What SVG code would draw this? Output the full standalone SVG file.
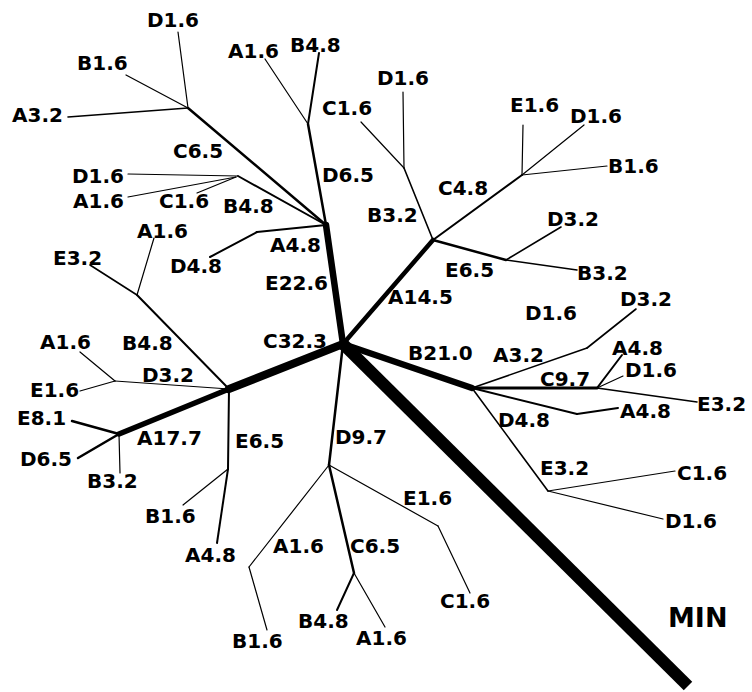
<svg xmlns="http://www.w3.org/2000/svg" width="752" height="692" viewBox="0 0 752 692">
<style>
  .bg { fill: #ffffff; }
  line { stroke: #000; stroke-linecap: round; fill: none; }
  .w1 { stroke-width: 1.2; }
  .w2 { stroke-width: 1.6; }
  .w3 { stroke-width: 2; }
  .w4 { stroke-width: 2.5; }
  .w5 { stroke-width: 3; }
  .w6 { stroke-width: 4.5; }
  .w7 { stroke-width: 5.5; }
  .w8 { stroke-width: 6.5; }
  .w9 { stroke-width: 8; }
  .wmin { stroke-width: 12; stroke-linecap: butt; }
  text { font-family: "DejaVu Sans", Verdana, sans-serif; font-weight: bold; font-size: 20px; fill: #000; }
  .big { font-size: 27px; }
</style>
<rect class="bg" x="0" y="0" width="752" height="692"/>
<g id="connectors">
  <line class="wmin" x1="343" y1="344" x2="688" y2="686"/>
  <line class="w8" x1="343" y1="344" x2="326" y2="225"/>
  <line class="w6" x1="343" y1="344" x2="433" y2="240"/>
  <line class="w8" x1="343" y1="344" x2="472" y2="388"/>
  <line class="w4" x1="343" y1="344" x2="329" y2="465"/>
  <line class="w9" x1="343" y1="344" x2="229" y2="389"/>
  <line class="w7" x1="229" y1="389" x2="119" y2="434"/>
  <line class="w4" x1="119" y1="434" x2="72" y2="421"/>
  <line class="w4" x1="119" y1="434" x2="78" y2="458"/>
  <line class="w1" x1="119" y1="434" x2="120" y2="473"/>
  <line class="w3" x1="229" y1="389" x2="137" y2="295"/>
  <line class="w2" x1="137" y1="295" x2="90" y2="265"/>
  <line class="w1" x1="137" y1="295" x2="154" y2="238"/>
  <line class="w1" x1="229" y1="389" x2="115" y2="381"/>
  <line class="w1" x1="115" y1="381" x2="80" y2="352"/>
  <line class="w1" x1="115" y1="381" x2="80" y2="391"/>
  <line class="w3" x1="229" y1="389" x2="228" y2="469"/>
  <line class="w1" x1="228" y1="469" x2="183" y2="505"/>
  <line class="w3" x1="228" y1="469" x2="217" y2="543"/>
  <line class="w4" x1="326" y1="225" x2="308" y2="124"/>
  <line class="w1" x1="308" y1="124" x2="265" y2="59"/>
  <line class="w3" x1="308" y1="124" x2="319" y2="53"/>
  <line class="w4" x1="326" y1="225" x2="188" y2="108"/>
  <line class="w1" x1="188" y1="108" x2="178" y2="32"/>
  <line class="w1" x1="188" y1="108" x2="126" y2="75"/>
  <line class="w2" x1="188" y1="108" x2="68" y2="117"/>
  <line class="w3" x1="326" y1="225" x2="238" y2="176"/>
  <line class="w1" x1="238" y1="176" x2="128" y2="174"/>
  <line class="w1" x1="236" y1="177" x2="128" y2="197"/>
  <line class="w1" x1="236" y1="177" x2="197" y2="193"/>
  <line class="w3" x1="326" y1="225" x2="257" y2="232"/>
  <line class="w3" x1="257" y1="232" x2="210" y2="257"/>
  <line class="w2" x1="433" y1="240" x2="404" y2="168"/>
  <line class="w1" x1="404" y1="168" x2="361" y2="122"/>
  <line class="w1" x1="404" y1="168" x2="403" y2="92"/>
  <line class="w3" x1="433" y1="240" x2="522" y2="175"/>
  <line class="w1" x1="522" y1="175" x2="523" y2="125"/>
  <line class="w1" x1="522" y1="175" x2="584" y2="125"/>
  <line class="w1" x1="522" y1="175" x2="607" y2="166"/>
  <line class="w4" x1="433" y1="240" x2="506" y2="260"/>
  <line class="w2" x1="506" y1="260" x2="561" y2="227"/>
  <line class="w2" x1="506" y1="260" x2="577" y2="270"/>
  <line class="w2" x1="472" y1="388" x2="587" y2="348"/>
  <line class="w2" x1="587" y1="348" x2="636" y2="309"/>
  <line class="w5" x1="472" y1="388" x2="597" y2="388"/>
  <line class="w3" x1="597" y1="388" x2="622" y2="355"/>
  <line class="w1" x1="597" y1="388" x2="623" y2="376"/>
  <line class="w2" x1="597" y1="388" x2="697" y2="402"/>
  <line class="w3" x1="472" y1="388" x2="577" y2="414"/>
  <line class="w3" x1="577" y1="414" x2="618" y2="408"/>
  <line class="w2" x1="472" y1="388" x2="548" y2="491"/>
  <line class="w1" x1="548" y1="491" x2="675" y2="471"/>
  <line class="w1" x1="548" y1="491" x2="663" y2="519"/>
  <line class="w1" x1="329" y1="465" x2="249" y2="567"/>
  <line class="w1" x1="249" y1="567" x2="267" y2="630"/>
  <line class="w4" x1="329" y1="465" x2="354" y2="573"/>
  <line class="w3" x1="354" y1="573" x2="337" y2="610"/>
  <line class="w1" x1="354" y1="573" x2="385" y2="627"/>
  <line class="w1" x1="329" y1="465" x2="438" y2="526"/>
  <line class="w1" x1="438" y1="526" x2="470" y2="593"/>
</g>
<g id="n1"><text x="147" y="27">D1.6</text></g>
<g id="n2"><text x="77" y="70">B1.6</text></g>
<g id="n3"><text x="12" y="122">A3.2</text></g>
<g id="n4"><text x="228" y="58">A1.6</text></g>
<g id="n5"><text x="290" y="52">B4.8</text></g>
<g id="n6"><text x="173" y="158">C6.5</text></g>
<g id="n7"><text x="72" y="183">D1.6</text></g>
<g id="n8"><text x="73" y="208">A1.6</text></g>
<g id="n9"><text x="159" y="208">C1.6</text></g>
<g id="n10"><text x="223" y="213">B4.8</text></g>
<g id="n11"><text x="322" y="182">D6.5</text></g>
<g id="n12"><text x="137" y="238">A1.6</text></g>
<g id="n13"><text x="270" y="252">A4.8</text></g>
<g id="n14"><text x="170" y="273">D4.8</text></g>
<g id="n15"><text x="265" y="290">E22.6</text></g>
<g id="n16"><text x="53" y="265">E3.2</text></g>
<g id="n17"><text x="322" y="115">C1.6</text></g>
<g id="n18"><text x="377" y="85">D1.6</text></g>
<g id="n19"><text x="367" y="222">B3.2</text></g>
<g id="n20"><text x="510" y="112">E1.6</text></g>
<g id="n21"><text x="570" y="123">D1.6</text></g>
<g id="n22"><text x="608" y="173">B1.6</text></g>
<g id="n23"><text x="438" y="195">C4.8</text></g>
<g id="n24"><text x="547" y="226">D3.2</text></g>
<g id="n25"><text x="445" y="277">E6.5</text></g>
<g id="n26"><text x="577" y="280">B3.2</text></g>
<g id="n27"><text x="388" y="304">A14.5</text></g>
<g id="n28"><text x="263" y="348">C32.3</text></g>
<g id="n29"><text x="408" y="360">B21.0</text></g>
<g id="n30"><text x="525" y="320">D1.6</text></g>
<g id="n31"><text x="620" y="306">D3.2</text></g>
<g id="n32"><text x="493" y="362">A3.2</text></g>
<g id="n33"><text x="612" y="355">A4.8</text></g>
<g id="n34"><text x="625" y="377">D1.6</text></g>
<g id="n35"><text x="540" y="386">C9.7</text></g>
<g id="n36"><text x="697" y="411">E3.2</text></g>
<g id="n37"><text x="620" y="418">A4.8</text></g>
<g id="n38"><text x="498" y="427">D4.8</text></g>
<g id="n39"><text x="540" y="475">E3.2</text></g>
<g id="n40"><text x="677" y="480">C1.6</text></g>
<g id="n41"><text x="665" y="528">D1.6</text></g>
<g id="n42"><text x="40" y="349">A1.6</text></g>
<g id="n43"><text x="122" y="350">B4.8</text></g>
<g id="n44"><text x="142" y="382">D3.2</text></g>
<g id="n45"><text x="30" y="397">E1.6</text></g>
<g id="n46"><text x="17" y="425">E8.1</text></g>
<g id="n47"><text x="137" y="445">A17.7</text></g>
<g id="n48"><text x="20" y="466">D6.5</text></g>
<g id="n49"><text x="87" y="488">B3.2</text></g>
<g id="n50"><text x="235" y="448">E6.5</text></g>
<g id="n51"><text x="145" y="523">B1.6</text></g>
<g id="n52"><text x="185" y="562">A4.8</text></g>
<g id="n53"><text x="335" y="444">D9.7</text></g>
<g id="n54"><text x="273" y="553">A1.6</text></g>
<g id="n55"><text x="350" y="553">C6.5</text></g>
<g id="n56"><text x="403" y="505">E1.6</text></g>
<g id="n57"><text x="232" y="648">B1.6</text></g>
<g id="n58"><text x="298" y="628">B4.8</text></g>
<g id="n59"><text x="356" y="645">A1.6</text></g>
<g id="n60"><text x="440" y="608">C1.6</text></g>
<g id="n61"><text class="big" x="668" y="627">MIN</text></g>
</svg>
